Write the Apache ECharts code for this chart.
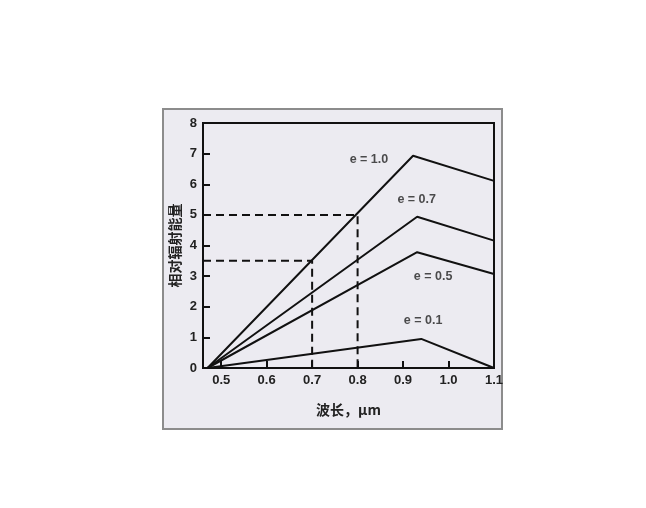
<!DOCTYPE html>
<html><head><meta charset="utf-8">
<script src="https://cdn.jsdelivr.net/npm/echarts@6/dist/echarts.min.js"></script>
<style>
html,body{margin:0;padding:0;background:#fff;}
#frame{position:absolute;left:162px;top:108px;width:337px;height:318px;background:#ecebf1;border:2px solid #8c8c8c;}
#c{position:absolute;left:0;top:0;width:646px;height:508px;}
</style></head>
<body>
<div id="frame"></div>
<div id="c"></div>
<script>
// Data
const xTicks = [0.5, 0.6, 0.7, 0.8, 0.9, 1.0, 1.1];
const yTicks = [0, 1, 2, 3, 4, 5, 6, 7, 8];
const e10 = [[0.47, 0], [0.922, 6.93], [1.1, 6.11]];
const e07 = [[0.47, 0], [0.931, 4.94], [1.1, 4.16]];
const e05 = [[0.47, 0], [0.931, 3.78], [1.1, 3.07]];
const e01 = [[0.47, 0], [0.94, 0.95], [1.1, 0.0]];
const guide07 = [[0.46, 3.5], [0.7, 3.5], [0.7, 0]];
const guide08 = [[0.46, 5.0], [0.8, 5.0], [0.8, 0]];
const curveNames = ['e = 1.0', 'e = 0.7', 'e = 0.5', 'e = 0.1'];
const curveLabelAt = [[0.825, 6.8], [0.93, 5.5], [0.966, 2.98], [0.944, 1.56]];
const xName = '波长，μm';
const yName = '相对辐射能量';

const font = '"Liberation Sans", Arial, sans-serif';
const lineS = (d) => ({type: 'line', data: d, symbol: 'none', lineStyle: {color: '#111', width: 2}, silent: true, z: 3});
const dashS = (d) => ({type: 'line', data: d, symbol: 'none', lineStyle: {color: '#111', width: 2, type: [8, 5]}, silent: true, z: 2});

const chart = echarts.init(document.getElementById('c'), null, {renderer: 'canvas'});
chart.setOption({
  backgroundColor: 'transparent',
  animation: false,
  grid: {left: 203, top: 123, width: 291, height: 245, show: true, borderColor: '#111', borderWidth: 2, backgroundColor: 'transparent'},
  xAxis: {
    type: 'value', min: 0.46, max: 1.1,
    name: xName, nameLocation: 'middle', nameGap: 35,
    nameTextStyle: {fontFamily: '"Noto Sans CJK SC", ' + font, fontWeight: 'bold', fontSize: 14, color: '#222'},
    axisLine: {show: true, lineStyle: {color: '#111', width: 2}},
    axisTick: {show: true, inside: true, length: 7, lineStyle: {color: '#111', width: 2}, customValues: xTicks},
    axisLabel: {customValues: xTicks, fontFamily: font, fontWeight: 'bold', fontSize: 13, color: '#222', margin: 6,
      formatter: v => v.toFixed(1)},
    splitLine: {show: false}
  },
  yAxis: {
    type: 'value', min: 0, max: 8, interval: 1,
    name: yName, nameLocation: 'middle', nameGap: 21, nameRotate: 90,
    nameTextStyle: {fontFamily: '"Noto Sans CJK SC", sans-serif', fontWeight: 'bold', fontSize: 14, color: '#222'},
    axisLine: {show: true, lineStyle: {color: '#111', width: 2}},
    axisTick: {show: true, inside: true, length: 7, lineStyle: {color: '#111', width: 2}},
    axisLabel: {fontFamily: font, fontWeight: 'bold', fontSize: 13, color: '#222', margin: 6,
      formatter: v => yTicks.includes(v) ? String(v) : ''},
    splitLine: {show: false}
  },
  series: [
    lineS(e10), lineS(e07), lineS(e05), lineS(e01),
    dashS(guide07), dashS(guide08),
    {type: 'scatter', symbolSize: 0, silent: true, z: 4,
     data: curveLabelAt.map((p, i) => ({value: p, name: curveNames[i]})),
     label: {show: true, position: 'inside', formatter: p => p.name,
       fontFamily: font, fontWeight: 'bold', fontSize: 12.5, color: '#222'}}
  ]
});
</script>
</body></html>
